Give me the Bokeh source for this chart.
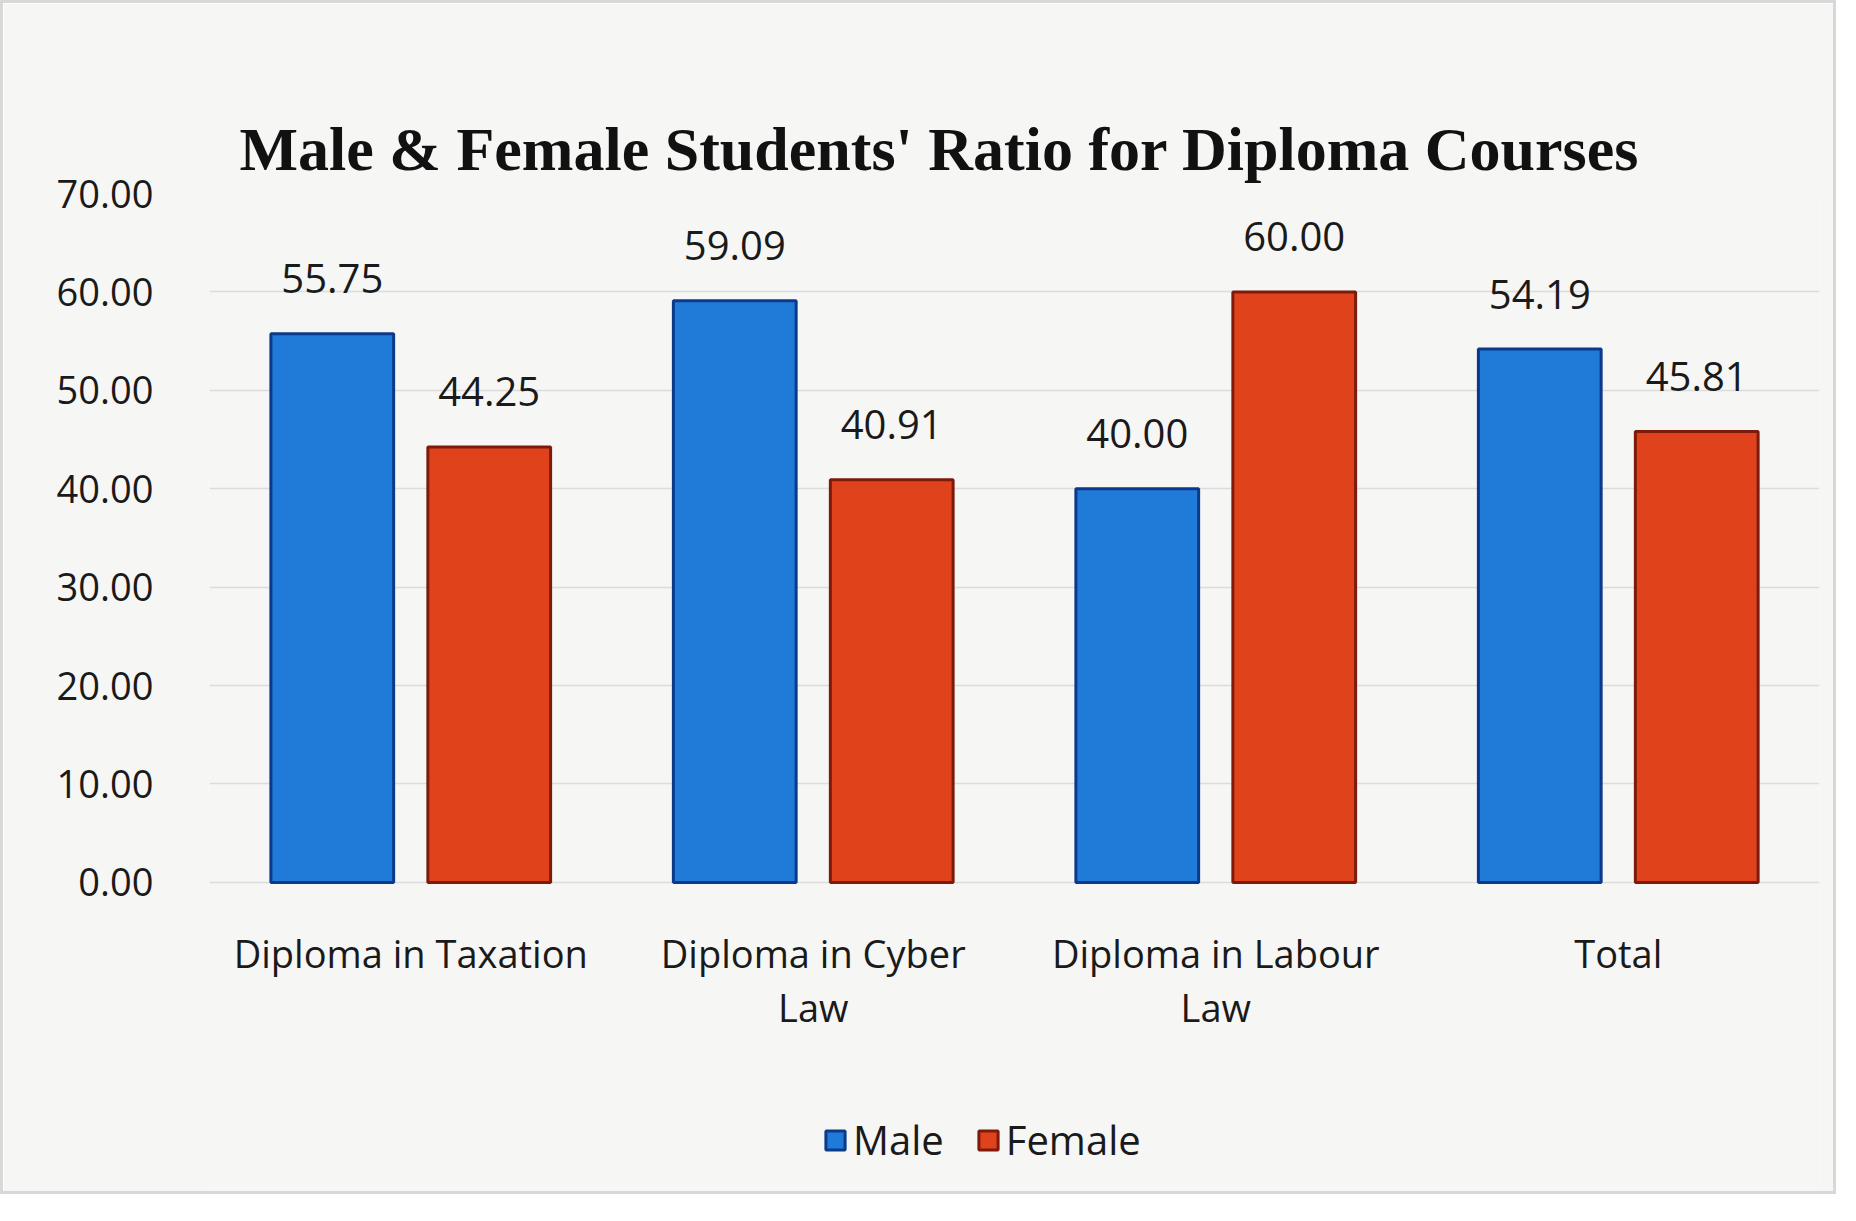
from bokeh.plotting import figure
from bokeh.models import (ColumnDataSource, FixedTicker, NumeralTickFormatter,
                          Legend, LegendItem, LabelSet, Range1d)
from bokeh.core.properties import value
from bokeh.transform import dodge
from bokeh.embed import file_html
from bokeh.resources import INLINE

categories = ["Diploma in Taxation", "Diploma in Cyber\nLaw", "Diploma in Labour\nLaw", "Total"]
male = [55.75, 59.09, 40.00, 54.19]
female = [44.25, 40.91, 60.00, 45.81]
y_ticks = [0, 10, 20, 30, 40, 50, 60, 70]

line1 = [c.split("\n")[0] for c in categories]
line2 = [c.split("\n")[1] if "\n" in c else "" for c in categories]

src = ColumnDataSource(dict(
    cat=categories, male=male, female=female,
    line1=line1, line2=line2,
    male_lbl=[f"{v:.2f}" for v in male],
    female_lbl=[f"{v:.2f}" for v in female],
))

FONT = "Open Sans"
BG = "#f6f6f5"

# the frame extends below zero to hold the category labels and the legend
p = figure(x_range=categories, y_range=Range1d(-31, 70),
           frame_width=1610, frame_height=994,
           output_backend="svg", toolbar_location=None,
           title="Male & Female  Students' Ratio for Diploma Courses",
           min_border_left=206, min_border_right=14, min_border_top=190,
           min_border_bottom=4,
           background_fill_color=BG, border_fill_color=BG)

p.title.text_font = "Liberation Serif"
p.title.text_font_style = "bold"
p.title.text_font_size = "62px"
p.title.text_color = "#111111"
p.title.offset = 30
p.title.standoff = 22

m = p.vbar(x=dodge("cat", -0.195, range=p.x_range), top="male", width=0.305, source=src,
           fill_color="#1f7ad8", line_color="#0c3a8a", line_width=3)
f = p.vbar(x=dodge("cat", 0.195, range=p.x_range), top="female", width=0.305, source=src,
           fill_color="#e0421c", line_color="#7c1a0c", line_width=3)

for col, top, off in (("male_lbl", "male", -0.195), ("female_lbl", "female", 0.195)):
    p.add_layout(LabelSet(x=dodge("cat", off, range=p.x_range), y=top, text=col, source=src,
                          text_align="center", text_baseline="middle", y_offset=55,
                          text_font=value(FONT), text_font_size="40px",
                          text_color="#1a1a1a"))

# category labels under the bars, each line centred
for col, yoff in (("line1", -45), ("line2", -99)):
    p.add_layout(LabelSet(x="cat", y=value(0), text=col, source=src,
                          text_align="center", text_baseline="top", y_offset=yoff,
                          text_font=value(FONT), text_font_size="38px",
                          text_color="#1a1a1a"))

p.xaxis.visible = False
p.yaxis.ticker = FixedTicker(ticks=y_ticks)
p.yaxis.formatter = NumeralTickFormatter(format="0.00")
p.yaxis.axis_line_color = None
p.yaxis.major_tick_line_color = None
p.yaxis.minor_tick_line_color = None
p.yaxis.major_label_text_font = FONT
p.yaxis.major_label_text_color = "#1a1a1a"
p.yaxis.major_label_text_font_size = "38px"
p.yaxis.major_label_standoff = 50

p.xgrid.grid_line_color = None
p.ygrid.grid_line_color = "#dcdcdc"
p.ygrid.grid_line_width = 1.5
p.outline_line_color = None

legend = Legend(items=[LegendItem(label="Male", renderers=[m]),
                       LegendItem(label="Female", renderers=[f])],
                orientation="horizontal", location=(614, 20),
                label_text_font=FONT, label_text_font_size="40px",
                label_text_color="#1a1a1a",
                glyph_width=24, glyph_height=24, spacing=32, label_standoff=6,
                background_fill_alpha=0, border_line_color=None)
p.add_layout(legend, "center")

p.styles = {"border": "3px solid #d8d8d8"}

open("out.html", "w").write(file_html(p, INLINE))
